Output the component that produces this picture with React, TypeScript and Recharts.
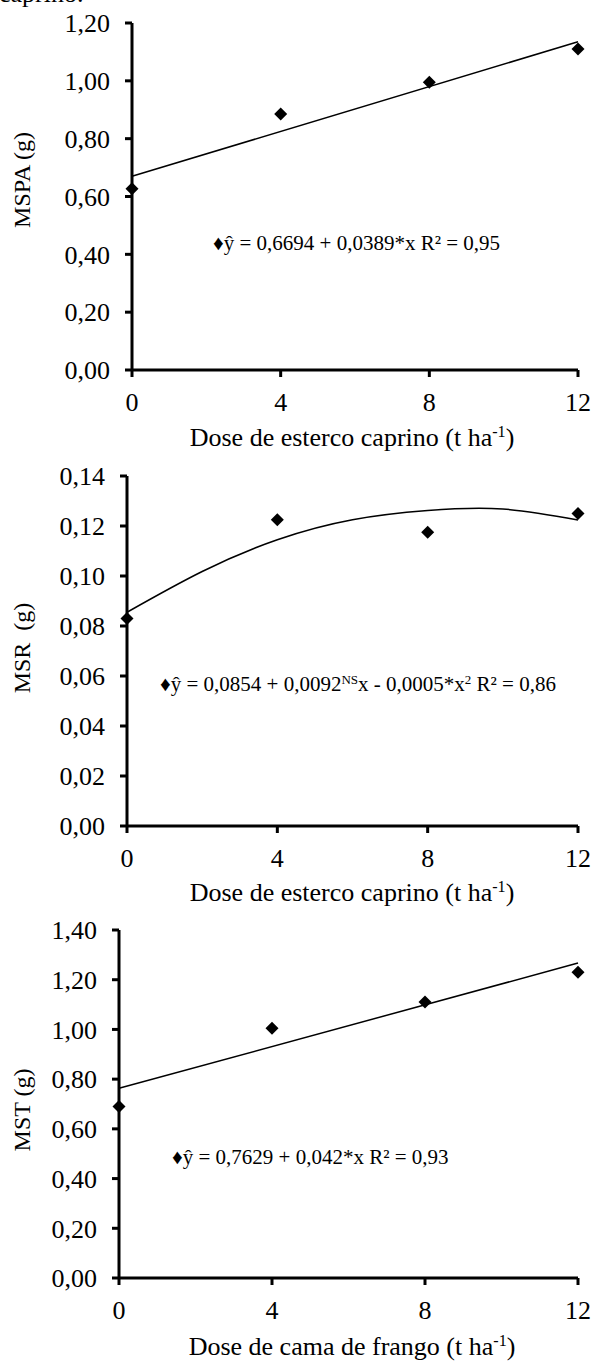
import React from "react"
import { ComposedChart, Line, Scatter, XAxis, YAxis } from "recharts"

const doses = [0, 4, 8, 12]
const fitEnds = [0, 12]

// MSPA (g), esterco caprino
const mspa = [0.627, 0.885, 0.995, 1.11]
const mspaFit = [0.67, 1.135]
const mspaTicks = [0, 0.2, 0.4, 0.6, 0.8, 1.0, 1.2]

// MSR (g), esterco caprino – quadratic fit
const msr = [0.083, 0.1225, 0.1175, 0.125]
const msrFitX = [0, 2, 4, 6, 8, 10, 12]
const msrFit = [0.0855, 0.1018, 0.1145, 0.1225, 0.1262, 0.1268, 0.1224]
const msrTicks = [0, 0.02, 0.04, 0.06, 0.08, 0.1, 0.12, 0.14]

// MST (g), cama de frango
const mst = [0.69, 1.005, 1.11, 1.23]
const mstFit = [0.763, 1.267]
const mstTicks = [0, 0.2, 0.4, 0.6, 0.8, 1.0, 1.2, 1.4]

const FONT = '"Liberation Serif", "Times New Roman", "DejaVu Serif", serif'

const toRows = (xs: number[], ys: number[]) => xs.map((x, i) => ({ x, y: ys[i] }))
const fmt = (v: number) => v.toFixed(2).replace(".", ",")

const Diamond = (props: { cx?: number; cy?: number }) => {
  const { cx, cy } = props
  if (cx == null || cy == null) return null
  const r = 6.5
  return (
    <polygon
      points={`${cx},${cy - r} ${cx + r},${cy} ${cx},${cy + r} ${cx - r},${cy}`}
      fill="#000"
    />
  )
}

type PanelProps = {
  top: number
  height: number
  plotTop: number
  plotBottom: number
  plotLeft: number
  yMax: number
  yTicks: number[]
  points: number[]
  fitX: number[]
  fitY: number[]
  curved?: boolean
}

const Panel = ({
  top,
  height,
  plotTop,
  plotBottom,
  plotLeft,
  yMax,
  yTicks,
  points,
  fitX,
  fitY,
  curved,
}: PanelProps) => {
  const axisStyle = { stroke: "#000", strokeWidth: 3 }
  const tickStyle = { fontFamily: FONT, fontSize: 26, fill: "#000" }
  return (
    <div style={{ position: "absolute", left: 0, top }}>
      <ComposedChart
        width={593}
        height={height}
        margin={{ top: plotTop, right: 15, bottom: 0, left: 0 }}
        style={{ overflow: "visible" }}
      >
        <XAxis
          type="number"
          dataKey="x"
          domain={[0, 12]}
          ticks={[0, 4, 8, 12]}
          interval={0}
          height={height - plotBottom}
          axisLine={axisStyle}
          tickLine={axisStyle}
          tickSize={7}
          tickMargin={16}
          tick={tickStyle}
        />
        <YAxis
          type="number"
          domain={[0, yMax]}
          ticks={yTicks}
          interval={0}
          width={plotLeft}
          axisLine={axisStyle}
          tickLine={axisStyle}
          tickSize={7}
          tickMargin={15}
          tick={tickStyle}
          tickFormatter={fmt}
        />
        <Line
          data={toRows(fitX, fitY)}
          dataKey="y"
          type={curved ? "natural" : "linear"}
          stroke="#000"
          strokeWidth={1.5}
          dot={false}
          activeDot={false}
          isAnimationActive={false}
        />
        <Scatter
          data={toRows(doses, points)}
          dataKey="y"
          shape={Diamond}
          isAnimationActive={false}
        />
      </ComposedChart>
    </div>
  )
}

const Txt = ({
  x,
  y,
  size = 26,
  rotate,
  anchor = "center",
  children,
}: {
  x: number
  y: number
  size?: number
  rotate?: boolean
  anchor?: "center" | "left"
  children: React.ReactNode
}) => (
  <div
    style={{
      position: "absolute",
      left: x,
      top: y,
      transform: `translate(${anchor === "center" ? "-50%" : "0"}, -50%)${rotate ? " rotate(-90deg)" : ""}`,
      whiteSpace: "nowrap",
      fontFamily: FONT,
      fontSize: size,
      lineHeight: 1,
      color: "#000",
    }}
  >
    {children}
  </div>
)

const Sup = ({ children }: { children: React.ReactNode }) => (
  <span style={{ fontSize: "0.62em", position: "relative", top: "-0.55em" }}>{children}</span>
)

const XTitle = ({ y, what }: { y: number; what: string }) => (
  <Txt x={352} y={y}>
    Dose de {what} (t ha<Sup>-1</Sup>)
  </Txt>
)

export default function App() {
  return (
    <div
      style={{
        position: "absolute",
        left: 0,
        top: 0,
        width: 593,
        height: 1362,
        background: "#fff",
        overflow: "hidden",
      }}
    >
      <div
        style={{
          position: "absolute",
          left: -1,
          top: -19,
          fontFamily: FONT,
          fontSize: 26,
          lineHeight: 1,
        }}
      >
        caprino.
      </div>

      <Panel
        top={0}
        height={460}
        plotTop={23}
        plotBottom={370}
        plotLeft={132}
        yMax={1.2}
        yTicks={mspaTicks}
        points={mspa}
        fitX={fitEnds}
        fitY={mspaFit}
      />
      <Txt x={22} y={180} size={24} rotate>
        MSPA (g)
      </Txt>
      <Txt x={213} y={243} size={21} anchor="left">
        ♦ŷ = 0,6694 + 0,0389*x R² = 0,95
      </Txt>
      <XTitle y={438} what="esterco caprino" />

      <Panel
        top={460}
        height={460}
        plotTop={16}
        plotBottom={366}
        plotLeft={127}
        yMax={0.14}
        yTicks={msrTicks}
        points={msr}
        fitX={msrFitX}
        fitY={msrFit}
        curved
      />
      <Txt x={22} y={648} size={24} rotate>
        MSR&nbsp;&nbsp;(g)
      </Txt>
      <Txt x={160} y={684} size={21} anchor="left">
        ♦ŷ = 0,0854 + 0,0092<Sup>NS</Sup>x - 0,0005*x<Sup>2</Sup> R² = 0,86
      </Txt>
      <XTitle y={893} what="esterco caprino" />

      <Panel
        top={900}
        height={462}
        plotTop={30}
        plotBottom={378}
        plotLeft={119}
        yMax={1.4}
        yTicks={mstTicks}
        points={mst}
        fitX={fitEnds}
        fitY={mstFit}
      />
      <Txt x={22} y={1110} size={24} rotate>
        MST (g)
      </Txt>
      <Txt x={172} y={1157} size={21} anchor="left">
        ♦ŷ = 0,7629 + 0,042*x R² = 0,93
      </Txt>
      <XTitle y={1347} what="cama de frango" />
    </div>
  )
}
